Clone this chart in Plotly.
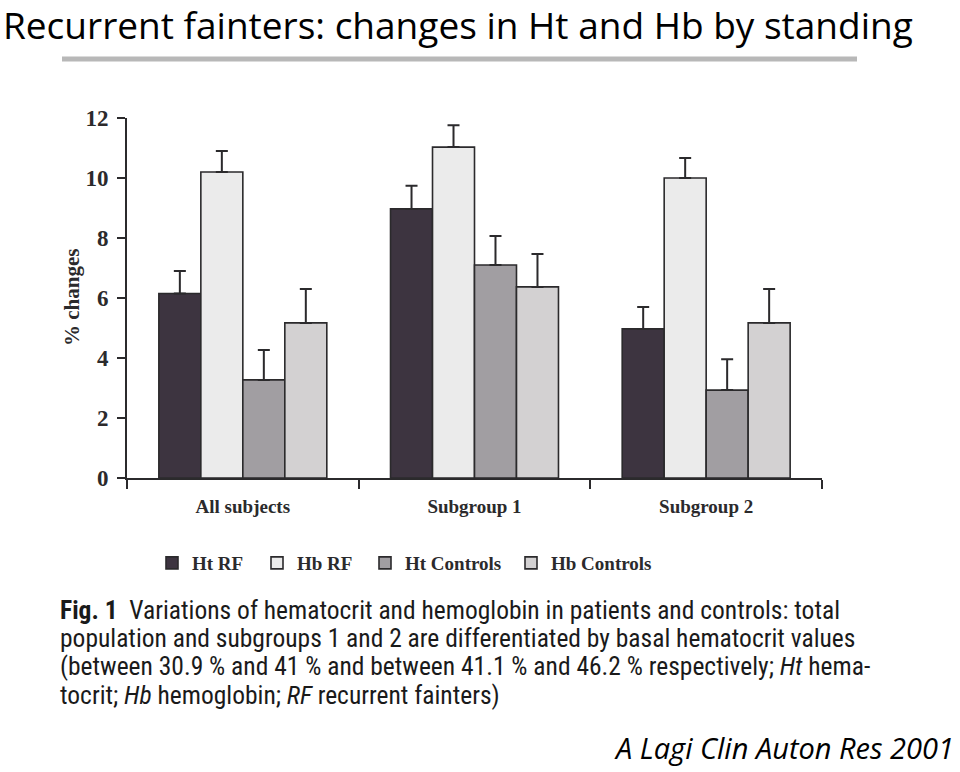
import plotly.graph_objects as go

# ---- data ----
groups = ["All subjects", "Subgroup 1", "Subgroup 2"]
series_names = ["Ht RF", "Hb RF", "Ht Controls", "Hb Controls"]
ht_rf = [6.15, 8.97, 4.97]
ht_rf_err = [0.75, 0.77, 0.73]
hb_rf = [10.2, 11.03, 10.0]
hb_rf_err = [0.7, 0.73, 0.67]
ht_ctrl = [3.27, 7.1, 2.93]
ht_ctrl_err = [1.0, 0.97, 1.03]
hb_ctrl = [5.17, 6.37, 5.17]
hb_ctrl_err = [1.13, 1.1, 1.13]
y_ticks = [0, 2, 4, 6, 8, 10, 12]

title_text = "Recurrent fainters: changes in Ht and Hb by standing"
caption_lines = [
    "<b>Fig. 1</b>  Variations of hematocrit and hemoglobin in patients and controls: total",
    "population and subgroups 1 and 2 are differentiated by basal hematocrit values",
    "(between 30.9 % and 41 % and between 41.1 % and 46.2 % respectively; <i>Ht</i> hema-",
    "tocrit; <i>Hb</i> hemoglobin; <i>RF</i> recurrent fainters)",
]
source_text = "A Lagi Clin Auton Res 2001"

# ---- layout geometry ----
W, H = 960, 772
L, R, T, B = 127, 138, 118, 294
PW = W - L - R
PH = H - T - B


def px(xp):
    return (xp - L) / PW


def py(yp):
    return (H - B - yp) / PH


fills = ["#3d3440", "#ebebeb", "#a19ea2", "#d3d1d2"]
values = [ht_rf, hb_rf, ht_ctrl, hb_ctrl]
errs = [ht_rf_err, hb_rf_err, ht_ctrl_err, hb_ctrl_err]
legend_ids = ["legend", "legend2", "legend3", "legend4"]
legend_text_x = [192, 297, 405, 551]

serif = "Liberation Serif"
ink = "#2b2a2c"

fig = go.Figure()
for name, vals, err, col, lid in zip(series_names, values, errs, fills, legend_ids):
    fig.add_trace(go.Bar(
        x=groups, y=vals, name=name, legend=lid,
        marker=dict(color=col, line=dict(color=ink, width=1.6)),
        error_y=dict(type="data", array=err, arrayminus=[0] * len(err),
                     symmetric=False, width=6, thickness=2, color=ink),
    ))

legend_common = dict(orientation="h", yanchor="middle", xanchor="left",
                     bgcolor="rgba(0,0,0,0)",
                     font=dict(family=serif, size=19, color=ink, weight="bold"),
                     itemclick=False)
legends = {}
for lid, tx in zip(legend_ids, legend_text_x):
    legends[lid] = dict(legend_common, x=px(tx - 40), y=py(563))

annotations = [
    dict(text=title_text, x=px(1), y=py(24), xref="paper", yref="paper",
         xanchor="left", yanchor="middle", showarrow=False,
         font=dict(family="Open Sans", size=37, color="#000000")),
    dict(text="% changes", x=px(72), y=py(298), xref="paper", yref="paper",
         xanchor="center", yanchor="middle", showarrow=False, textangle=-90,
         font=dict(family=serif, size=21, color=ink, weight="bold")),
    dict(text=source_text, x=px(956), y=py(747), xref="paper", yref="paper",
         xanchor="right", yanchor="middle", showarrow=False,
         font=dict(family="Open Sans", size=29, color="#000000", style="italic")),
]
cap_y = [610, 638, 666, 695]
for line, cy in zip(caption_lines, cap_y):
    annotations.append(dict(
        text=line, x=px(58), y=py(cy), xref="paper", yref="paper",
        xanchor="left", yanchor="middle", showarrow=False,
        font=dict(family="Liberation Sans Narrow, Roboto Condensed, Liberation Sans",
                  size=25.5, color="#1a1a1a")))

fig.update_layout(
    width=W, height=H,
    margin=dict(l=L, r=R, t=T, b=B, autoexpand=False),
    paper_bgcolor="#ffffff", plot_bgcolor="rgba(0,0,0,0)",
    barmode="group", bargap=0.275, bargroupgap=0,
    showlegend=True,
    annotations=annotations,
    shapes=[dict(type="line", xref="paper", yref="paper",
                 x0=px(62), x1=px(857), y0=py(59), y1=py(59),
                 line=dict(color="#b8b8b8", width=5))],
    **legends,
)
fig.update_xaxes(
    type="category", showline=True, linecolor=ink, linewidth=2,
    ticks="outside", tickson="boundaries", ticklen=9, tickwidth=1.5, tickcolor=ink,
    ticklabelstandoff=10,
    tickfont=dict(family=serif, size=19, color=ink, weight="bold"),
    showgrid=False, zeroline=False,
)
fig.update_yaxes(
    range=[0, 12], tickvals=y_ticks, showline=True, linecolor=ink, linewidth=2,
    ticks="outside", ticklen=8, tickwidth=1.5, tickcolor=ink,
    ticklabelstandoff=4,
    tickfont=dict(family=serif, size=23, color=ink, weight="bold"),
    showgrid=False, zeroline=False,
)

fig.write_html("out.html")
